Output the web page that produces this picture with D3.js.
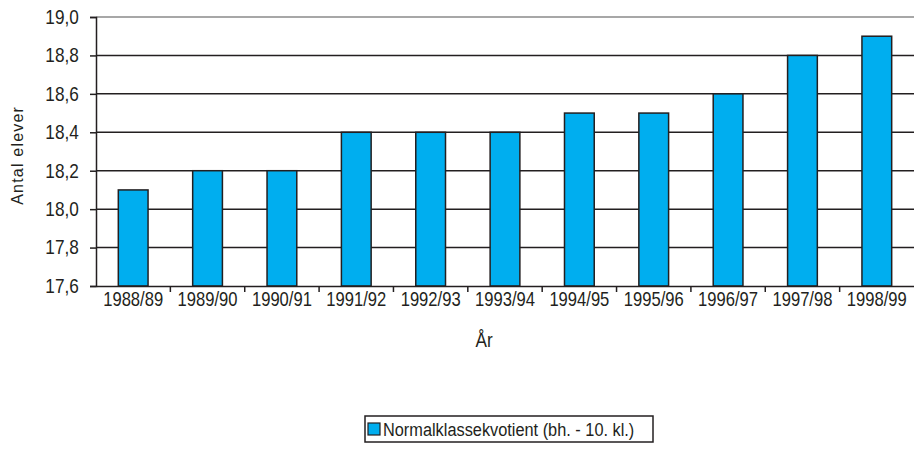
<!DOCTYPE html>
<html>
<head>
<meta charset="utf-8">
<title>Normalklassekvotient</title>
<script src="https://d3js.org/d3.v7.min.js"></script>
<style>
  body { margin: 0; background: #fff; }
  text { font-family: "Liberation Sans Narrow", "Liberation Sans", Arial, sans-serif; fill: #231f20; }
</style>
</head>
<body>
<div id="chart"></div>
<script>
// data
var years = ["1988/89", "1989/90", "1990/91", "1991/92", "1992/93", "1993/94",
             "1994/95", "1995/96", "1996/97", "1997/98", "1998/99"];
var kvotient = [18.1, 18.2, 18.2, 18.4, 18.4, 18.4, 18.5, 18.5, 18.6, 18.8, 18.9];
var yTicks = [17.6, 17.8, 18.0, 18.2, 18.4, 18.6, 18.8, 19.0];
var seriesName = "Normalklassekvotient (bh. - 10. kl.)";

var width = 914, height = 460;
var margin = {top: 17, right: 0, bottom: 174, left: 96};
var squeeze = "scale(0.86,1)"; // fake a condensed face

var svg = d3.select("#chart").append("svg")
    .attr("width", width)
    .attr("height", height);

var x = d3.scaleBand()
    .domain(years)
    .range([margin.left, width - margin.right])
    .paddingInner(0.6)
    .paddingOuter(0.3);

var y = d3.scaleLinear()
    .domain([17.6, 19.0])
    .range([height - margin.bottom, margin.top]);

var fmt = function(d) { return d3.format(".1f")(d).replace(".", ","); };

// gridlines
svg.append("g").selectAll("line")
  .data(yTicks.slice(1))
  .enter().append("line")
    .attr("x1", margin.left).attr("x2", width)
    .attr("y1", function(d) { return y(d); })
    .attr("y2", function(d) { return y(d); })
    .attr("stroke", function(d) { return d === 19.0 ? "#8a8a8a" : "#231f20"; })
    .attr("stroke-width", 1.5);

// bars
svg.append("g").selectAll("rect")
  .data(years)
  .enter().append("rect")
    .attr("x", function(d) { return x(d); })
    .attr("y", function(d, i) { return y(kvotient[i]); })
    .attr("width", x.bandwidth())
    .attr("height", function(d, i) { return y(17.6) - y(kvotient[i]); })
    .attr("fill", "#00aeef")
    .attr("stroke", "#231f20")
    .attr("stroke-width", 1.5);

// y axis
var yAxis = svg.append("g")
    .attr("transform", "translate(" + margin.left + ",0)")
    .call(d3.axisLeft(y).tickValues(yTicks).tickFormat(fmt).tickSize(6).tickPadding(14));
yAxis.select(".domain").attr("stroke", "#231f20").attr("stroke-width", 1.5);
yAxis.selectAll(".tick line").attr("stroke", "#231f20").attr("stroke-width", 1.5);
yAxis.selectAll("text").style("font-size", "20px").attr("fill", "#231f20")
    .attr("transform", squeeze);

// x axis
var step = x.step();
var xAxis = svg.append("g")
    .attr("transform", "translate(0," + y(17.6) + ")")
    .call(d3.axisBottom(x).tickSize(0).tickPadding(6));
xAxis.select(".domain").attr("stroke", "#231f20").attr("stroke-width", 1.5);
xAxis.selectAll("text").style("font-size", "20px").attr("fill", "#231f20")
    .attr("transform", "scale(0.83,1)");
// tick marks between categories
svg.append("g").selectAll("line")
  .data(years.slice(1))
  .enter().append("line")
    .attr("x1", function(d) { return x(d) - (step - x.bandwidth()) / 2; })
    .attr("x2", function(d) { return x(d) - (step - x.bandwidth()) / 2; })
    .attr("y1", y(17.6)).attr("y2", y(17.6) + 6)
    .attr("stroke", "#231f20").attr("stroke-width", 1.5);

// axis titles
svg.append("text")
    .attr("transform", "translate(" + ((margin.left + width) / 2 - 21) + ",347) " + squeeze)
    .attr("text-anchor", "middle")
    .style("font-size", "20px")
    .text("År");

svg.append("text")
    .attr("transform", "translate(23," + (y(18.28)) + ") rotate(-90)")
    .attr("text-anchor", "middle")
    .style("font-family", "'Liberation Sans', Arial, sans-serif")
    .style("font-size", "16px")
    .style("letter-spacing", "1.2px")
    .text("Antal elever");

// legend
var legend = svg.append("g").attr("transform", "translate(365,416)");
legend.append("rect")
    .attr("width", 288).attr("height", 26)
    .attr("fill", "#fff").attr("stroke", "#231f20").attr("stroke-width", 1.5);
legend.append("rect")
    .attr("x", 3).attr("y", 7).attr("width", 12).attr("height", 12)
    .attr("fill", "#00aeef").attr("stroke", "#231f20").attr("stroke-width", 1.2);
legend.append("text")
    .attr("transform", "translate(18,20) " + squeeze)
    .style("font-size", "19px")
    .text(seriesName);
</script>
</body>
</html>
